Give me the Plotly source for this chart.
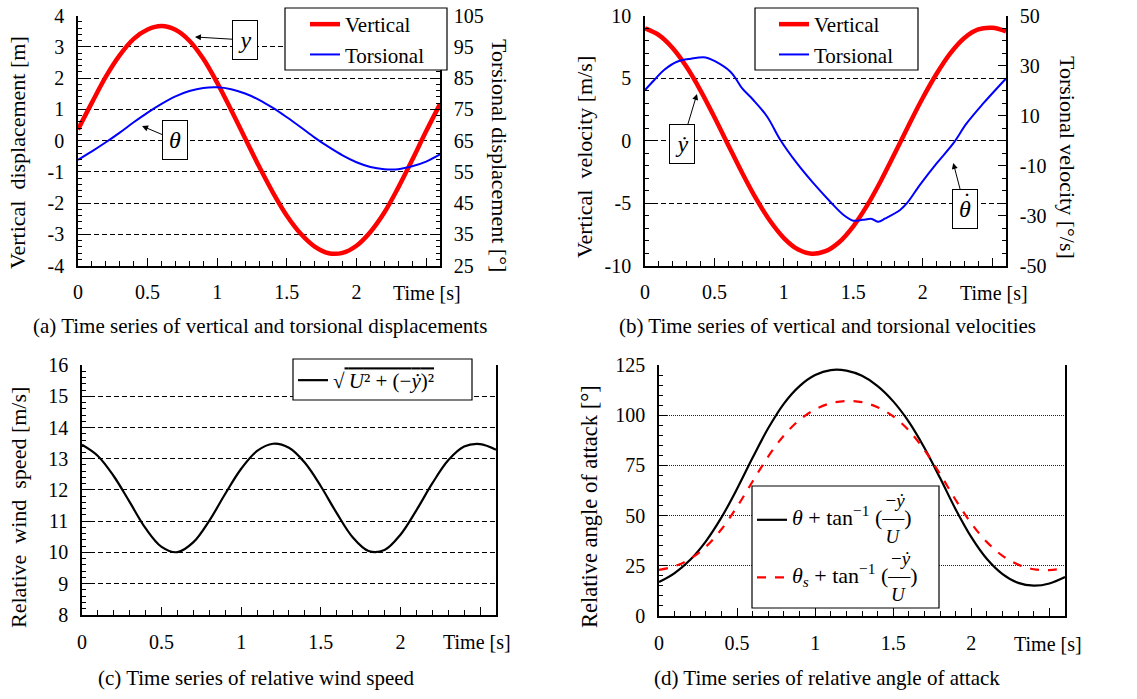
import plotly.graph_objects as go

FONT = "Liberation Serif"

# ------------------------------------------------------------------ data
t = [0.0, 0.1, 0.2, 0.3, 0.4, 0.5, 0.6, 0.7, 0.8, 0.9, 1.0, 1.1, 1.2, 1.3,
     1.4, 1.5, 1.6, 1.7, 1.8, 1.9, 2.0, 2.1, 2.2, 2.3, 2.4, 2.5, 2.6]

vert_disp = [0.36, 1.22, 2.05, 2.74, 3.26, 3.56, 3.67, 3.55, 3.20, 2.62, 1.85,
             0.98, 0.08, -0.82, -1.66, -2.40, -2.98, -3.39, -3.60, -3.59,
             -3.36, -2.92, -2.30, -1.50, -0.62, 0.30, 1.17]
tors_disp = [58.9, 61.6, 64.5, 67.6, 70.9, 74.0, 76.8, 79.2, 80.9, 81.9, 82.1,
             81.5, 80.1, 78.1, 75.5, 72.5, 69.3, 66.0, 63.0, 60.3, 58.1, 56.6,
             55.9, 55.9, 56.8, 58.3, 60.6]

vert_vel = [8.99, 8.45, 7.40, 5.89, 4.01, 1.88, -0.36, -2.58, -4.64, -6.41,
            -7.79, -8.69, -9.04, -8.84, -8.10, -6.85, -5.18, -3.18, -0.99,
            1.26, 3.42, 5.36, 7.01, 8.22, 8.90, 9.03, 8.75]
t_tors_vel = [0.0, 0.07, 0.137, 0.23, 0.33, 0.436, 0.51, 0.615, 0.66, 0.70,
              0.78, 0.88, 0.975, 1.095, 1.214, 1.334, 1.43, 1.50, 1.55, 1.586,
              1.634, 1.68, 1.73, 1.837, 1.885, 1.98, 2.10, 2.22, 2.316, 2.436,
              2.6]
tors_vel = [20.3, 24.5, 28.3, 31.6, 32.8, 33.3, 31.6, 27.6, 24.3, 20.9, 16.3,
            9.6, 0.3, -9.1, -17.1, -24.4, -29.7, -32.0, -31.8, -31.5, -31.3,
            -32.4, -31.1, -27.7, -25.1, -17.7, -9.1, -1.1, 6.9, 14.9, 24.9]

rel_wind = [13.45, 13.09, 12.44, 11.61, 10.77, 10.18, 10.01, 10.33, 11.02,
            11.88, 12.68, 13.25, 13.48, 13.35, 12.87, 12.12, 11.26, 10.49,
            10.05, 10.08, 10.57, 11.35, 12.21, 12.95, 13.39, 13.47, 13.29]

aoa = [16.9, 21.4, 28.0, 37.2, 49.1, 63.4, 78.9, 93.6, 105.8, 114.5, 120.0,
       122.5, 122.2, 119.6, 114.5, 106.9, 96.7, 83.7, 68.7, 53.1, 39.3, 28.4,
       20.9, 16.5, 15.1, 16.2, 19.4]
aoa_s = [23.0, 24.8, 28.5, 34.5, 43.2, 54.4, 67.1, 79.5, 89.9, 97.7, 102.9,
         106.0, 107.1, 106.5, 104.0, 99.4, 92.4, 82.6, 70.7, 57.8, 46.1, 36.8,
         30.0, 25.6, 23.3, 22.9, 23.8]

# axis ranges / tick steps (major, minor)
x_range, x_dtick, x_minor = [0, 2.6], 0.5, 0.1
ya_range, ya_dtick, ya_minor = [-4, 4], 1, 0.2
ya2_range, ya2_dtick, ya2_minor = [25, 105], 10, 2
yb_range, yb_dtick, yb_minor = [-10, 10], 5, 1
yb2_range, yb2_dtick, yb2_minor = [-50, 50], 20, 5
yc_range, yc_dtick, yc_minor = [8, 16], 1, 0.2
yd_range, yd_dtick, yd_minor = [0, 125], 25, 5

# ------------------------------------------------------------------ figure
fig = go.Figure()

fig.add_trace(go.Scatter(x=t, y=vert_disp, mode="lines", name="Vertical",
                         line=dict(color="#FF0000", width=4.5, shape="spline"),
                         xaxis="x", yaxis="y", legend="legend"))
fig.add_trace(go.Scatter(x=t, y=tors_disp, mode="lines", name="Torsional",
                         line=dict(color="#0000FF", width=2, shape="spline"),
                         xaxis="x", yaxis="y2", legend="legend"))

fig.add_trace(go.Scatter(x=t, y=vert_vel, mode="lines", name="Vertical",
                         line=dict(color="#FF0000", width=4.5, shape="spline"),
                         xaxis="x2", yaxis="y3", legend="legend2"))
fig.add_trace(go.Scatter(x=t_tors_vel, y=tors_vel, mode="lines", name="Torsional",
                         line=dict(color="#0000FF", width=2, shape="spline"),
                         xaxis="x2", yaxis="y4", legend="legend2"))

fig.add_trace(go.Scatter(
    x=t, y=rel_wind, mode="lines",
    name="√<span style='text-decoration:overline'>\u2009<i>U</i>² + (−<i>ẏ</i>)²</span>",
    line=dict(color="black", width=2.2, shape="spline"),
    xaxis="x3", yaxis="y5", legend="legend3"))

NB = "\u00a0"


def frac_label(head, pad):
    top = "<span style='font-size:22px'>" + NB * pad + "</span><span style='font-size:19px'>−<i>ẏ</i></span>"
    mid = "<span style='font-size:22px'>" + head + " + tan<sup>−1</sup> (—)</span>"
    bot = "<span style='font-size:22px'>" + NB * pad + "</span><span style='font-size:19px'><i>U</i></span>"
    return top + "<br>" + mid + "<br>" + bot


fig.add_trace(go.Scatter(x=t, y=aoa, mode="lines",
                         name=frac_label("<i>θ</i>", 17),
                         line=dict(color="black", width=2.2, shape="spline"),
                         xaxis="x4", yaxis="y6", legend="legend4"))
fig.add_trace(go.Scatter(x=t, y=aoa_s, mode="lines",
                         name=frac_label("<i>θ<sub>s</sub></i>", 18),
                         line=dict(color="#FF0000", width=2.2, dash="dash",
                                   shape="spline"),
                         xaxis="x4", yaxis="y6", legend="legend4"))

tickfont = dict(family=FONT, size=20, color="black")


def minus_alias(rng, dtick):
    out = {}
    v = rng[0]
    while v < 0:
        out["\u2212" + str(abs(v))] = "-" + str(abs(v))
        v += dtick
    return out


def xax(domain, anchor):
    return dict(domain=domain, anchor=anchor, range=x_range, automargin=False,
                tickmode="linear", tick0=0, dtick=x_dtick,
                labelalias={"2.5": ""},
                ticks="inside", ticklen=8, tickwidth=1.2, tickcolor="black",
                showline=True, linecolor="black", linewidth=1.5,
                showgrid=False, zeroline=False, tickfont=tickfont,
                ticklabelstandoff=8,
                minor=dict(tickmode="linear", tick0=0, dtick=x_minor,
                           ticks="inside", ticklen=5, tickcolor="black",
                           tickwidth=1, showgrid=False))


def yax(domain, anchor, rng, dtick, minor_dtick, grid=True, griddash="5px,3px",
        side="left", overlay=None, mirror=False, gridcolor="black"):
    d = dict(domain=domain, anchor=anchor, range=rng, side=side,
             automargin=False,
             tickmode="linear", tick0=rng[0], dtick=dtick,
             labelalias=minus_alias(rng, dtick),
             ticks="inside", ticklen=8, tickwidth=1.2, tickcolor="black",
             showline=True, linecolor="black", linewidth=1.5, mirror=mirror,
             showgrid=grid, gridcolor=gridcolor, griddash=griddash, gridwidth=1,
             zeroline=False, tickfont=tickfont, ticklabelstandoff=8,
             minor=dict(tickmode="linear", tick0=rng[0], dtick=minor_dtick,
                        ticks="inside", ticklen=4, tickcolor="black",
                        tickwidth=1, showgrid=False))
    if overlay:
        d["overlaying"] = overlay
        d.pop("domain")
    return d


top_dom = [0.6199, 0.9775]
fig.update_layout(
    template="none",
    xaxis=xax([0.0686, 0.3870], "y"),
    yaxis=yax(top_dom, "x", ya_range, ya_dtick, ya_minor),
    yaxis2=yax(top_dom, "x", ya2_range, ya2_dtick, ya2_minor, grid=False,
               side="right", overlay="y"),
    xaxis2=xax([0.5673, 0.8848], "y3"),
    yaxis3=yax(top_dom, "x2", yb_range, yb_dtick, yb_minor),
    yaxis4=yax(top_dom, "x2", yb2_range, yb2_dtick, yb2_minor, grid=False,
               side="right", overlay="y3"),
    xaxis3=xax([0.0721, 0.4362], "y5"),
    yaxis5=yax([0.1202, 0.4778], "x3", yc_range, yc_dtick, yc_minor,
               mirror=True),
    xaxis4=xax([0.5796, 0.9367], "y6"),
    yaxis6=yax([0.1187, 0.4778], "x4", yd_range, yd_dtick, yd_minor,
               mirror=True, griddash="1px,1px", gridcolor="#222222"),
)

leg_common = dict(bgcolor="rgba(0,0,0,0)", borderwidth=0,
                  font=dict(family=FONT, size=21, color="black"),
                  xanchor="left", yanchor="top", itemwidth=30,
                  tracegroupgap=0)
fig.update_layout(
    legend=dict(x=305 / 1137, y=1 - 4 / 699, **leg_common),
    legend2=dict(x=774 / 1137, y=1 - 4 / 699, **leg_common),
    legend3=dict(x=293 / 1137, y=1 - 360 / 699, **leg_common),
    legend4=dict(x=752 / 1137, y=1 - 486 / 699,
                 **{**leg_common, "font": dict(family=FONT, size=14,
                                               color="black")}),
)

# legend frames (white boxes behind the legends)
shapes = []
for x0, y0, x1, y1 in [(285, 8, 447, 70), (755, 8, 918, 70),
                       (293, 359, 472, 400), (752, 486, 939, 608)]:
    shapes.append(dict(type="rect", xref="paper", yref="paper",
                       x0=x0 / 1137, x1=x1 / 1137, y0=1 - y1 / 699,
                       y1=1 - y0 / 699, line=dict(color="black", width=1.2),
                       fillcolor="white", layer="above"))

ann = []


def txt(x, y, s, size=21, angle=0):
    ann.append(dict(x=x / 1137, y=1 - y / 699, xref="paper", yref="paper",
                    text=s, showarrow=False, textangle=angle,
                    font=dict(family=FONT, size=size, color="black"),
                    xanchor="center", yanchor="middle"))


# captions
txt(260, 326, "(a) Time series of vertical and torsional displacements")
txt(827, 326, "(b) Time series of vertical and torsional velocities")
txt(256, 678, "(c) Time series of relative wind speed")
txt(827, 678, "(d) Time series of relative angle of attack")
# time labels
txt(427, 293, "Time [s]", size=20)
txt(994, 293, "Time [s]", size=20)
txt(477, 642, "Time [s]", size=20)
txt(1048, 644, "Time [s]", size=20)
# axis titles
txt(17, 153, "Vertical  displacement [m]", size=22, angle=-90)
txt(500, 155, "Torsional displacement [°]", size=22, angle=90)
txt(584, 157, "Vertical  velocity [m/s]", size=22, angle=-90)
txt(1068, 157, "Torsional velocity [°/s]", size=22, angle=90)
txt(19, 508, "Relative  wind  speed [m/s]", size=22, angle=-90)
txt(589, 507, "Relative angle of attack [°]", size=22.5, angle=-90)


def arrow(xref, yref, x, y, ax, ay, s):
    ann.append(dict(x=x, y=y, xref=xref, yref=yref, text=s, showarrow=True,
                    ax=ax, ay=ay, arrowhead=2, arrowsize=1.2, arrowwidth=1,
                    arrowcolor="black", bordercolor="black", borderwidth=1,
                    borderpad=2, bgcolor="white", width=20, height=34,
                    font=dict(family=FONT, size=24, color="black")))


arrow("x", "y", 0.84, 3.32, 50, 3, "<i>y</i>")
arrow("x", "y", 0.46, 0.47, 33, 14, "<i>θ</i>")
arrow("x2", "y3", 0.374, 3.74, -15, 50, "<i>ẏ</i>")
arrow("x2", "y3", 2.22, -1.78, 12, 46, "<i>θ</i>")
# dot of the θ-dot label
ann.append(dict(x=2.22, y=-1.78, xref="x2", yref="y3", text="˙",
                showarrow=False, xshift=14, yshift=-38,
                font=dict(family=FONT, size=24, color="black")))

fig.update_layout(
    annotations=ann, shapes=shapes,
    width=1137, height=699,
    margin=dict(l=0, r=0, t=0, b=0, autoexpand=False),
    paper_bgcolor="white", plot_bgcolor="white",
    font=dict(family=FONT, size=20, color="black"),
    showlegend=True,
)

fig.write_html("out.html",
               config={"displayModeBar": False},
               post_script="document.body.style.margin='0';"
                           "document.body.style.padding='0';")
